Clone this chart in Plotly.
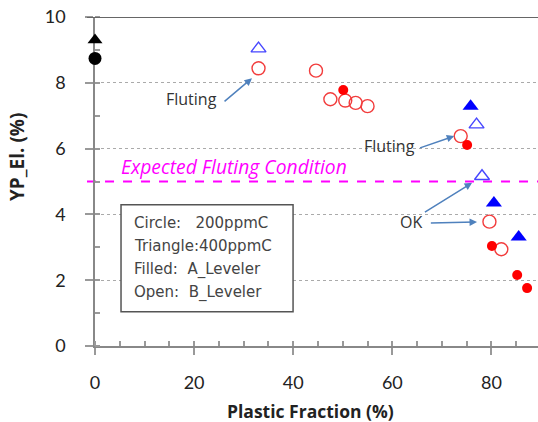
import plotly.graph_objects as go

# ---- data ----
ref_circle_x = [0.0]
ref_circle_y = [8.74]
ref_tri_x = [0.0]
ref_tri_y = [9.30]

a_circle_x = [50.1, 75.1, 80.1, 85.2, 87.2]
a_circle_y = [7.78, 6.11, 3.04, 2.16, 1.76]

b_circle_x = [33.0, 44.6, 47.5, 50.5, 52.6, 55.0, 73.8, 79.6, 82.0]
b_circle_y = [8.44, 8.37, 7.50, 7.46, 7.39, 7.29, 6.38, 3.78, 2.94]

a_tri_x = [75.8, 80.5, 85.5]
a_tri_y = [7.29, 4.35, 3.31]

b_tri_x = [33.0, 77.0, 78.1]
b_tri_y = [9.04, 6.73, 5.16]

expected_level = 5.0
x_ticks = [0, 20, 40, 60, 80]
y_ticks = [0, 2, 4, 6, 8, 10]
legend_lines = ["Circle:\u00a0\u00a0\u00a0200ppmC", "Triangle:400ppmC",
                "Filled:\u00a0 A_Leveler", "Open:\u00a0 B_Leveler"]

fig = go.Figure()

def add(x, y, symbol, color, size, filled, lw=1.4):
    fig.add_trace(go.Scatter(
        x=x, y=y, mode="markers", cliponaxis=False, showlegend=False,
        marker=dict(symbol=symbol if filled else symbol + "-open",
                    size=size, color=color,
                    line=dict(width=lw, color=color))))

add(ref_tri_x, ref_tri_y, "triangle-up", "black", 13, True, 0)
add(ref_circle_x, ref_circle_y, "circle", "black", 13, True, 0)
add(b_circle_x, b_circle_y, "circle", "#f23c3c", 13, False)
add(a_circle_x, a_circle_y, "circle", "#ff0000", 10, True, 0)
add(b_tri_x, b_tri_y, "triangle-up", "#4646ff", 13, False)
add(a_tri_x, a_tri_y, "triangle-up", "#0000ff", 14, True, 0)

# expected fluting line
fig.add_shape(type="line", xref="paper", yref="y", x0=-0.018, x1=1,
              y0=expected_level, y1=expected_level, layer="below",
              line=dict(color="#ff00ff", width=2, dash="dash"))
# top border
fig.add_shape(type="line", xref="paper", yref="y", x0=-0.018, x1=1,
              y0=10, y1=10, line=dict(color="#666666", width=2))
# legend box
fig.add_shape(type="rect", xref="x", yref="y", x0=5.25, x1=39.97,
              y0=1.04, y1=4.29, fillcolor="white",
              line=dict(color="#555555", width=1.5), layer="above")

ann = []
for i, t in enumerate(legend_lines):
    ann.append(dict(x=7.5, y=[3.74, 3.03, 2.34, 1.64][i], xref="x", yref="y",
                    text=t, showarrow=False, xanchor="left", yanchor="middle",
                    font=dict(family="DejaVu Sans", size=15, color="#444444")))

ann.append(dict(x=28.0, y=5.47, xref="x", yref="y",
                text="<i>Expected Fluting Condition</i>", showarrow=False,
                font=dict(family="Open Sans", size=19.3, color="#ff00ff")))

txt_font = dict(family="Open Sans", size=16, color="#333333")
ann.append(dict(x=19.4, y=7.51, xref="x", yref="y", text="Fluting", showarrow=False, font=txt_font))
ann.append(dict(x=59.4, y=6.09, xref="x", yref="y", text="Fluting", showarrow=False, font=txt_font))
ann.append(dict(x=63.8, y=3.78, xref="x", yref="y", text="OK", showarrow=False, font=txt_font))

arrow_col = "#4f81bd"
for (hx, hy, ax, ay) in [(31.69, 8.14, -29, 24.4), (72.5, 6.38, -35.7, 12.3),
                         (77.1, 3.77, -47.7, 1.0), (76.1, 4.96, -48.7, 30.3)]:
    ann.append(dict(x=hx, y=hy, ax=ax, ay=ay, xref="x", yref="y", text="",
                    showarrow=True, arrowhead=2, arrowsize=1, arrowwidth=1.5,
                    arrowcolor=arrow_col, standoff=0, startstandoff=0))

ann.append(dict(xref="paper", yref="paper", x=(310 - 95) / 443, y=-(411 - 346) / 329,
                yanchor="middle", xanchor="center",
                text="<b>Plastic Fraction (%)</b>", showarrow=False,
                font=dict(family="Open Sans", size=17.5, color="#222222")))
ann.append(dict(xref="paper", yref="paper", x=-(95 - 17) / 443, y=(346 - 157) / 329,
                text="<b>YP_El. (%)</b>", textangle=-90, showarrow=False,
                xanchor="center", yanchor="middle",
                font=dict(family="Open Sans", size=19, color="#222222")))

fig.update_layout(
    width=538, height=422,
    margin=dict(l=95, r=0, t=17, b=76),
    paper_bgcolor="white", plot_bgcolor="white",
    annotations=ann,
    font=dict(family="Lato", size=18, color="#222222"),
    xaxis=dict(range=[0, 89.4], tickvals=x_ticks, showgrid=False, zeroline=False,
               showline=True, linecolor="#888888", linewidth=1.5, layer="below traces",
               ticks="outside", ticklen=7, tickcolor="#999999", tickwidth=1.5,
               ticklabelstandoff=13,
               minor=dict(dtick=5, ticks="inside", ticklen=5, tickcolor="#999999",
                          showgrid=False)),
    yaxis=dict(range=[0, 10], tickvals=y_ticks, showgrid=True, gridcolor="#aaaaaa",
               griddash="dot", gridwidth=1, zeroline=False, layer="below traces",
               showline=True, linecolor="#888888", linewidth=1.5,
               ticks="outside", ticklen=8, tickcolor="#999999", tickwidth=1.5,
               ticklabelstandoff=16,
               minor=dict(dtick=1, ticks="inside", ticklen=5, tickcolor="#999999",
                          showgrid=False)),
)

fig.write_html("out.html", config={"displayModeBar": False},
               post_script="document.body.style.margin='0';")
